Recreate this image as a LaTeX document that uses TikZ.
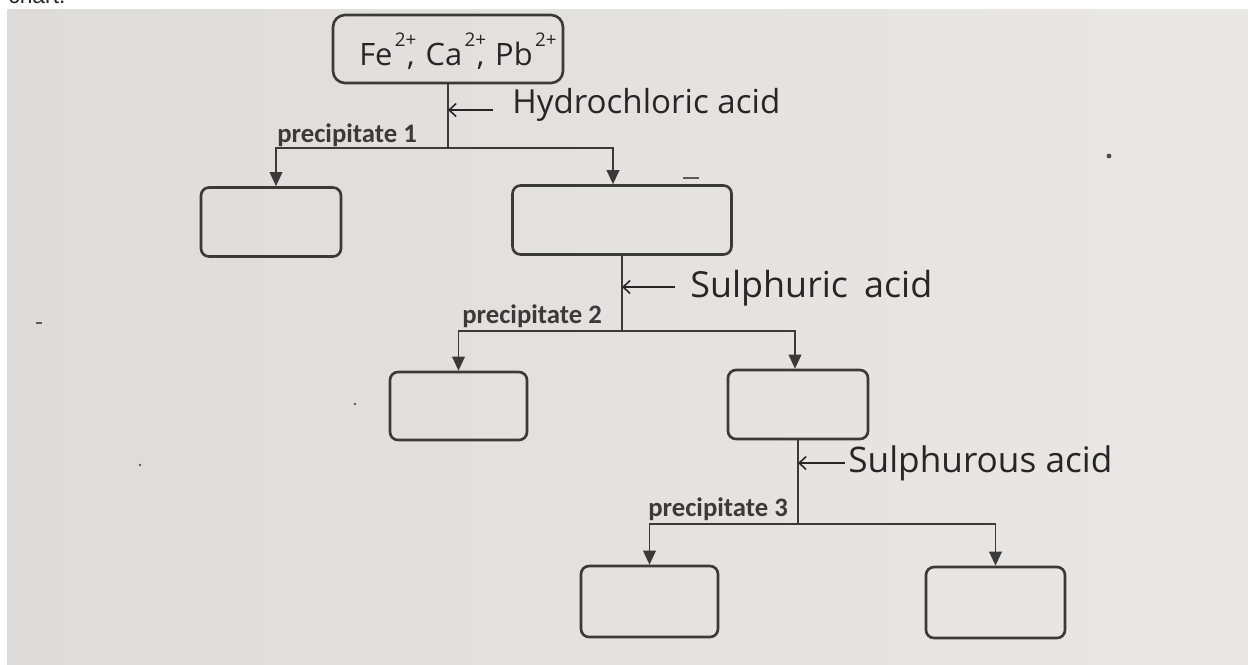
\documentclass[tikz,border=0pt]{standalone}
\usepackage{fontspec}
\setmainfont{Carlito}
\newfontfamily\printed{Carlito}
\newfontfamily\hand{Open Sans}
\newfontfamily\plain{Liberation Sans}
\usetikzlibrary{arrows.meta,calc}
\definecolor{paperdark}{RGB}{222,220,217}
\definecolor{paperlight}{RGB}{234,232,229}
\definecolor{ink}{RGB}{58,58,58}
\definecolor{pen}{RGB}{38,38,40}
\definecolor{speck}{RGB}{90,90,90}
% a charge written high above the symbol
\newcommand{\ioncharge}[1]{\kern0.08em\raisebox{0.6em}{\fontsize{11}{12}\selectfont #1}}
\begin{document}
\begin{tikzpicture}[x=0.02cm, y=-0.02cm,
  box/.style={draw=ink, line width=1.5pt, rounded corners=0.16cm, inner sep=0pt},
  flow/.style={draw=ink, line width=1.1pt},
  flowarr/.style={flow, -{Triangle[length=0.28cm, width=0.25cm]}},
  penarr/.style={draw=pen, line width=0.9pt, -{Straight Barb[length=0.14cm, width=0.26cm]}},
  plabel/.style={font=\printed\bfseries\fontsize{15.2}{18}\selectfont, text=ink, inner sep=0pt},
  hlabel/.style={text=pen, inner sep=0pt}]

% page and sheet of paper
\useasboundingbox (0,0) rectangle (1248,664);
\fill[white] (0,0) rectangle (1248,664);
\shade[left color=paperdark, right color=paperlight] (7,9) rectangle (1248,664);
\node[anchor=base west, inner sep=0pt, text=black!85,
      font=\plain\fontsize{13}{15}\selectfont] (caption) at (8,3) {chart.};

% specks on the paper
\draw[speck, line width=1pt] (683,178) -- (699,178);
\draw[speck, line width=0.8pt] (36,323) -- (42,323);
\fill[black!70] (1109,156) circle (2.4);
\fill[speck] (355,404) circle (1.3);
\fill[speck] (140,465) circle (1.3);

% boxes
\node[box, rounded corners=0.24cm, minimum width=4.6cm, minimum height=1.36cm] (top) at (448,49) {};
\node[hlabel, anchor=base] (ions) at (458,65)
  {\resizebox{3.95cm}{!}{\hand\fontsize{18}{20}\selectfont
    Fe\ioncharge{2+}\kern-0.3em,\kern0.35em
    Ca\ioncharge{2+}\kern-0.3em,\kern0.35em
    Pb\ioncharge{2+}}};

\node[box, minimum width=2.8cm,  minimum height=1.38cm] (b1) at (271,222) {};
\node[box, minimum width=4.38cm, minimum height=1.38cm] (b2) at (622,220) {};
\node[box, minimum width=2.74cm, minimum height=1.36cm] (b3) at (458.5,406) {};
\node[box, minimum width=2.8cm,  minimum height=1.38cm] (b4) at (798,404.5) {};
\node[box, minimum width=2.74cm, minimum height=1.42cm] (b5) at (649.5,601.5) {};
\node[box, minimum width=2.78cm, minimum height=1.42cm] (b6) at (995.5,602.5) {};

% branch points
\coordinate (j1) at (448,148);
\coordinate (j2) at (622,331);
\coordinate (j3) at (798,524);

% flow lines
\draw[flow] (top.south) -- (j1);
\draw[flowarr] (j1) -| ([xshift=0.1cm]b1.north);
\draw[flowarr] (j1) -| ([xshift=-0.18cm]b2.north);
\draw[flow] (b2.south) -- (j2);
\draw[flowarr] (j2) -| (b3.north);
\draw[flowarr] (j2) -| ([xshift=-0.06cm]b4.north);
\draw[flow] (b4.south) -- (j3);
\draw[flowarr] (j3) -| (b5.north);
\draw[flowarr] (j3) -| (b6.north);

% precipitate labels
\node[plabel, anchor=base west] (p1) at (277,142) {precipitate 1};
\node[plabel, anchor=base west] (p2) at (462,323) {precipitate 2};
\node[plabel, anchor=base west] (p3) at (648,516) {precipitate 3};

% reagents, written by hand
\node[hlabel, anchor=base west] (hcl) at (512,113)
  {\resizebox{5.36cm}{!}{\hand Hydrochloric acid}};
\node[hlabel, anchor=base west] (h2so4) at (690,297)
  {\resizebox{4.84cm}{!}{\hand Sulphuric\hspace{0.45em}acid}};
\node[hlabel, anchor=base west] (h2so3) at (848,472)
  {\resizebox{5.28cm}{!}{\hand Sulphurous acid}};

\coordinate (t1) at (493,110);
\coordinate (t2) at (675,287);
\coordinate (t3) at (845,463);
\draw[penarr] (t1) -- (t1 -| top.south);
\draw[penarr] (t2) -- (t2 -| b2.south);
\draw[penarr] (t3) -- (t3 -| b4.south);
\end{tikzpicture}
\end{document}
